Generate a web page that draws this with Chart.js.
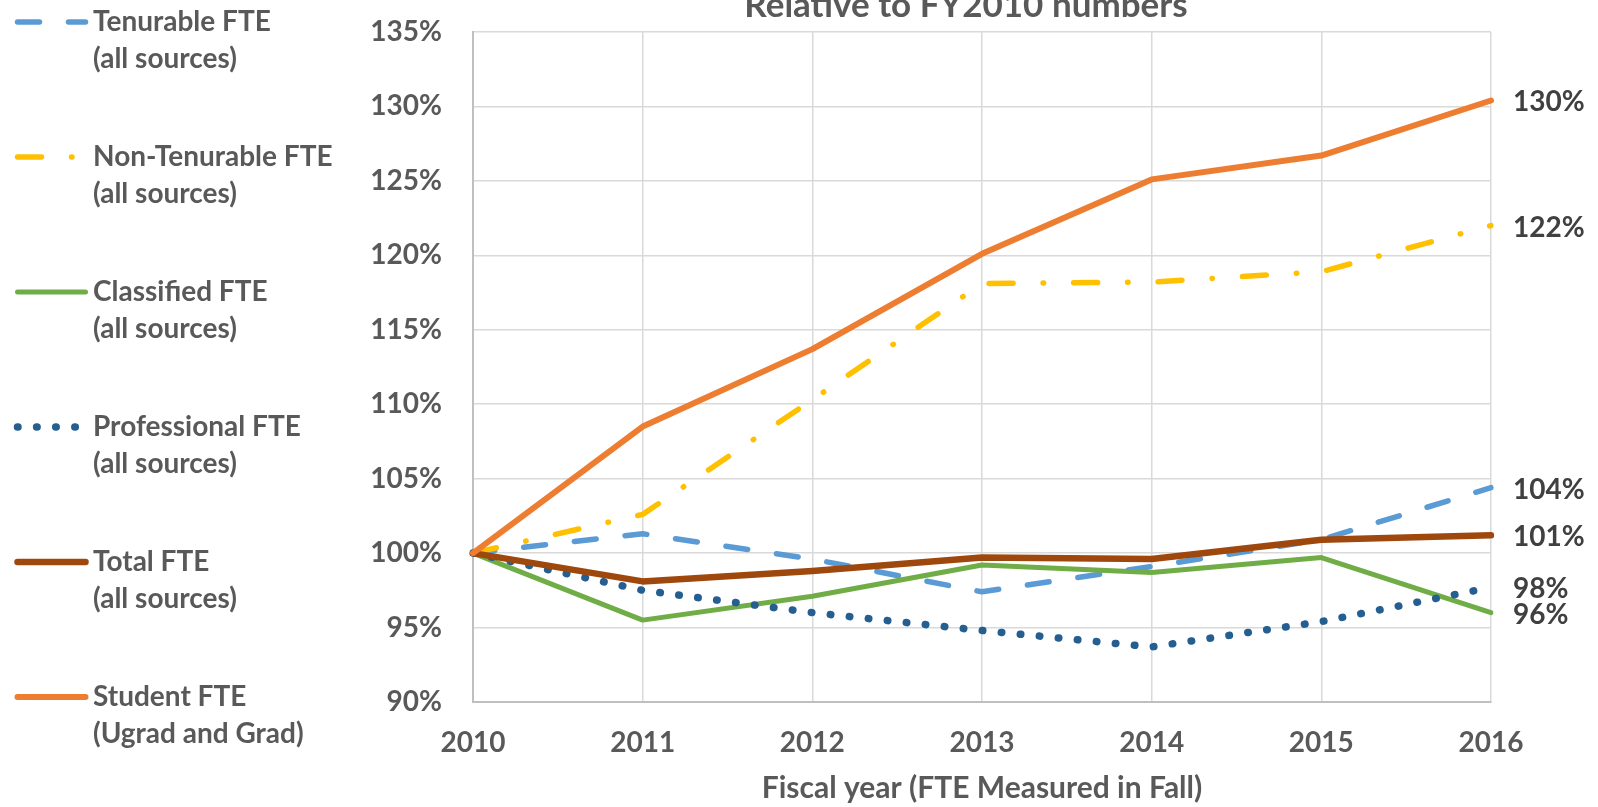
<!DOCTYPE html>
<html>
<head>
<meta charset="utf-8">
<script src="https://cdn.jsdelivr.net/npm/chart.js@4.4.1/dist/chart.umd.min.js"></script>
<style>
  html, body { margin: 0; padding: 0; background: #fff; }
  #wrap { width: 1598px; height: 807px; }
</style>
</head>
<body>
<div id="wrap"><canvas id="graph"></canvas></div>
<script>
// fiscal years on the x axis
const years = ['2010', '2011', '2012', '2013', '2014', '2015', '2016'];

// values as % of FY2010
const tenurable    = [100, 101.3, 99.6, 97.4, 99.1, 100.9, 104.4];
const nonTenurable = [100, 102.6, 110.3, 118.1, 118.2, 118.9, 122.0];
const classified   = [100, 95.5, 97.1, 99.2, 98.7, 99.7, 96.0];
const professional = [100, 97.5, 96.0, 94.8, 93.7, 95.4, 97.7];
const totalFte     = [100, 98.1, 98.8, 99.7, 99.6, 100.9, 101.2];
const student      = [100, 108.5, 113.7, 120.1, 125.1, 126.7, 130.4];

const seriesLabels = [
  ['Tenurable FTE', '(all sources)'],
  ['Non-Tenurable FTE', '(all sources)'],
  ['Classified FTE', '(all sources)'],
  ['Professional FTE', '(all sources)'],
  ['Total FTE', '(all sources)'],
  ['Student FTE', '(Ugrad and Grad)']
];

const yMin = 90, yMax = 135, yStep = 5;
const chartTitle = 'Relative to FY2010 numbers';
const xTitle = 'Fiscal year (FTE Measured in Fall)';

const textGrey = '#595959';
const bold = size => ({ family: 'Lato', size: size, weight: 'bold' });

function line(values, i, color, width, dash) {
  return {
    label: seriesLabels[i].join(' '),
    legendLines: seriesLabels[i],
    data: values,
    borderColor: color,
    backgroundColor: color,
    borderWidth: width,
    borderDash: dash,
    borderCapStyle: 'round',
    borderJoinStyle: 'round',
    pointRadius: 0,
    fill: false,
    tension: 0,
    order: 6 - i   // later series drawn on top, like excel
  };
}

// legend on the left, two lines per entry
const sideLegend = {
  id: 'sideLegend',
  afterDraw(chart) {
    const ctx = chart.ctx;
    ctx.save();
    chart.data.datasets.forEach((ds, i) => {
      const y = 22 + i * 135;
      ctx.beginPath();
      ctx.setLineDash(ds.borderDash || []);
      ctx.lineCap = 'round';
      ctx.lineWidth = ds.borderWidth;
      ctx.strokeStyle = ds.borderColor;
      ctx.moveTo(17.5, y);
      ctx.lineTo(85.5, y);
      ctx.stroke();
      ctx.setLineDash([]);
      ctx.fillStyle = textGrey;
      ctx.font = 'bold 28px Lato';
      ctx.textBaseline = 'alphabetic';
      ctx.textAlign = 'left';
      ds.legendLines.forEach((t, j) => ctx.fillText(t, 93, y + 9 + j * 37));
    });
    ctx.restore();
  }
};

// end-of-line value labels + the clipped title
const endLabels = {
  id: 'endLabels',
  afterDatasetsDraw(chart) {
    const ctx = chart.ctx;
    ctx.save();
    ctx.font = 'bold 28px Lato';
    ctx.fillStyle = '#404040';
    ctx.textAlign = 'left';
    ctx.textBaseline = 'alphabetic';
    chart.data.datasets.forEach((ds, i) => {
      const meta = chart.getDatasetMeta(i);
      const last = meta.data[meta.data.length - 1];
      const v = ds.data[ds.data.length - 1];
      ctx.fillText(Math.round(v) + '%', last.x + 22, last.y + 11);
    });
    ctx.font = 'bold 35px Lato';
    ctx.fillStyle = textGrey;
    ctx.textAlign = 'center';
    ctx.fillText(chartTitle, 966, 17);
    ctx.restore();
  }
};

const config = {
  type: 'line',
  data: {
    labels: years,
    datasets: [
      line(tenurable, 0, '#5B9BD5', 5.5, [22, 29]),
      line(nonTenurable, 1, '#FFC000', 5.5, [24, 30, 0.5, 30]),
      line(classified, 2, '#70AD47', 5, []),
      line(professional, 3, '#255E91', 7.5, [0.5, 18.6]),
      line(totalFte, 4, '#9E480E', 6.5, []),
      line(student, 5, '#ED7D31', 6, [])
    ]
  },
  options: {
    responsive: true,
    maintainAspectRatio: false,
    animation: false,
    devicePixelRatio: 1,
    layout: { padding: { left: 0, right: 107, top: 32, bottom: 0 } },
    plugins: {
      legend: { display: false },
      title: { display: false },
      tooltip: { enabled: false }
    },
    scales: {
      x: {
        type: 'category',
        offset: false,
        grid: { color: '#D9D9D9', lineWidth: 1.5, drawTicks: false, offset: false },
        border: { color: '#BFBFBF', width: 2 },
        ticks: { color: textGrey, font: bold(28), padding: 24, maxRotation: 0, autoSkip: false },
        title: { display: true, text: xTitle, color: textGrey, font: bold(30), padding: { top: 0, bottom: 1 } },
        afterFit(scale) { scale.height = 105; }
      },
      y: {
        min: yMin,
        max: yMax,
        grid: { color: '#D9D9D9', lineWidth: 1.5, drawTicks: false },
        border: { color: '#BFBFBF', width: 2 },
        ticks: { stepSize: yStep, color: textGrey, font: bold(28), padding: 31, callback: v => v + '%' },
        afterFit(scale) {
          scale.width = 473;
          scale.paddingTop = 0;
          scale.paddingBottom = 0;
        }
      }
    }
  },
  plugins: [sideLegend, endLabels]
};

new Chart(document.getElementById('graph'), config);
</script>
</body>
</html>
